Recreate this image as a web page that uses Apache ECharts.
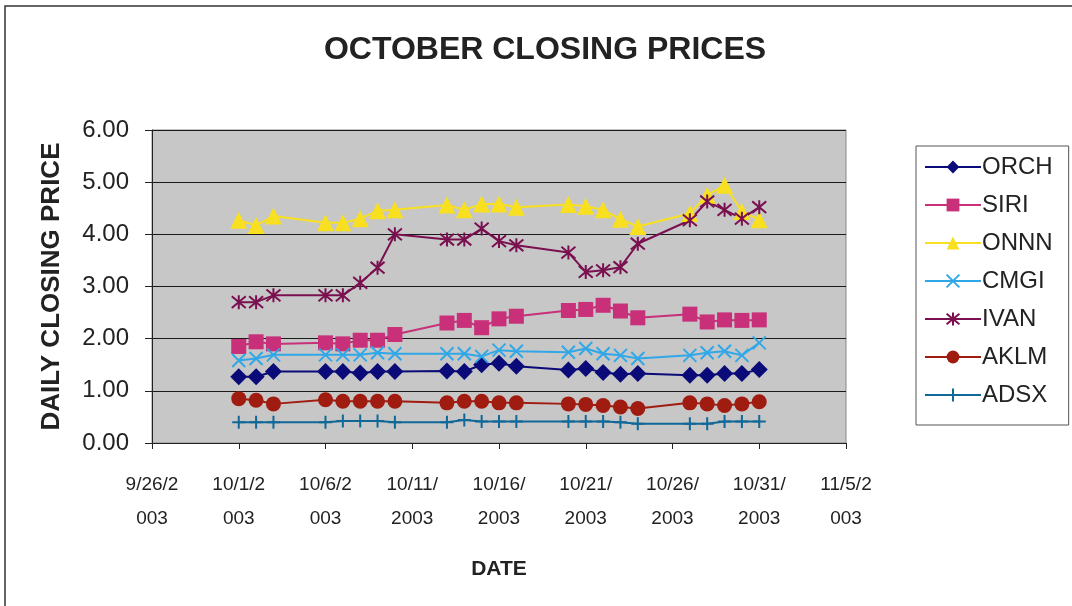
<!DOCTYPE html>
<html>
<head>
<meta charset="utf-8">
<script src="https://cdn.jsdelivr.net/npm/echarts@6/dist/echarts.min.js"></script>
<style>
  html, body { margin: 0; padding: 0; background: #fff; }
  #chart { width: 1072px; height: 606px; }
</style>
</head>
<body>
<div id="chart"></div>
<script>
// trading days of October 2003
var dates = ['2003-10-01','2003-10-02','2003-10-03',
  '2003-10-06','2003-10-07','2003-10-08','2003-10-09','2003-10-10',
  '2003-10-13','2003-10-14','2003-10-15','2003-10-16','2003-10-17',
  '2003-10-20','2003-10-21','2003-10-22','2003-10-23','2003-10-24',
  '2003-10-27','2003-10-28','2003-10-29','2003-10-30','2003-10-31']

var orch = [1.27,1.27,1.37,1.37,1.37,1.34,1.37,1.37,1.38,1.37,1.50,1.53,1.47,1.40,1.43,1.35,1.32,1.33,1.30,1.30,1.33,1.33,1.41]
var siri = [1.85,1.94,1.90,1.92,1.90,1.97,1.97,2.08,2.30,2.35,2.21,2.38,2.43,2.54,2.56,2.64,2.53,2.40,2.47,2.32,2.36,2.35,2.36]
var onnn = [4.27,4.17,4.35,4.22,4.22,4.30,4.45,4.47,4.56,4.47,4.58,4.58,4.52,4.57,4.54,4.47,4.29,4.15,4.40,4.75,4.94,4.44,4.28]
var cmgi = [1.58,1.62,1.69,1.69,1.69,1.69,1.73,1.71,1.71,1.71,1.66,1.78,1.76,1.74,1.81,1.71,1.68,1.62,1.68,1.73,1.76,1.68,1.92]
var ivan = [2.70,2.70,2.83,2.83,2.83,3.07,3.36,4.00,3.90,3.90,4.11,3.87,3.79,3.65,3.28,3.31,3.37,3.82,4.27,4.63,4.47,4.30,4.52]
var aklm = [0.85,0.82,0.75,0.83,0.80,0.80,0.80,0.80,0.77,0.80,0.80,0.77,0.77,0.75,0.74,0.72,0.69,0.66,0.77,0.75,0.72,0.75,0.79]
var adsx = [0.40,0.40,0.40,0.40,0.42,0.42,0.42,0.40,0.40,0.44,0.41,0.41,0.41,0.41,0.41,0.41,0.40,0.37,0.37,0.37,0.41,0.41,0.41]

var xTickLabels = ['9/26/2\n003','10/1/2\n003','10/6/2\n003','10/11/\n2003','10/16/\n2003',
  '10/21/\n2003','10/26/\n2003','10/31/\n2003','11/5/2\n003']

// x axis runs in days counted from 9/26/2003
var day0 = Date.UTC(2003, 8, 26)
function dayOf(s) {
  var p = s.split('-')
  return (Date.UTC(+p[0], +p[1] - 1, +p[2]) - day0) / 86400000
}
function pairs(vals) {
  return vals.map(function (v, i) { return [dayOf(dates[i]), v] })
}

var xPath = 'path://M0,0L10,10M10,0L0,10'
var starPath = 'path://M0,0L10,10M10,0L0,10M5,-1L5,11'
var plusPath = 'path://M5,0L5,10M0,5L10,5'

function mk(name, vals, color, symbol, size, stroke) {
  return {
    name: name,
    type: 'line',
    data: pairs(vals),
    symbol: symbol,
    symbolSize: size,
    showAllSymbol: true,
    lineStyle: { color: color, width: 2 },
    itemStyle: stroke
      ? { color: color, borderColor: color, borderWidth: 2 }
      : { color: color },
    emphasis: { disabled: true },
    z: 3
  }
}

var chart = echarts.init(document.getElementById('chart'))
chart.setOption({
  animation: false,
  backgroundColor: '#fff',
  textStyle: { fontFamily: 'Liberation Sans, Arial, sans-serif' },
  graphic: [{
    type: 'polyline',
    shape: { points: [[5, 610], [5, 6], [1072, 6]] },
    style: { stroke: '#333', lineWidth: 1.5, fill: null }
  }],
  title: {
    text: 'OCTOBER CLOSING PRICES',
    left: 540,
    textAlign: 'center',
    top: 29,
    textStyle: { fontSize: 32, fontWeight: 'bold', color: '#222' }
  },
  legend: {
    orient: 'vertical',
    left: 916,
    top: 146,
    width: 153,
    padding: [9, 16, 18, 8],
    itemWidth: 56,
    itemHeight: 16,
    itemGap: 14,
    borderColor: '#555',
    borderWidth: 1,
    backgroundColor: '#fff',
    textStyle: { fontSize: 24, color: '#222', padding: [0, 0, 0, -4] },
    data: ['ORCH','SIRI','ONNN','CMGI','IVAN','AKLM','ADSX']
  },
  grid: {
    left: 152, right: 226, top: 130, bottom: 163,
    show: true,
    backgroundColor: '#c7c7c7',
    borderColor: '#888',
    borderWidth: 1
  },
  xAxis: {
    type: 'value',
    min: 0, max: 40, interval: 5,
    name: 'DATE',
    nameLocation: 'middle',
    nameGap: 116,
    nameTextStyle: { fontSize: 21, fontWeight: 'bold', color: '#222' },
    axisLine: { lineStyle: { color: '#222', width: 1 } },
    axisTick: { show: true, length: 6, lineStyle: { color: '#222' } },
    splitLine: { show: false },
    axisLabel: {
      fontSize: 19,
      color: '#222',
      lineHeight: 34,
      margin: 25,
      formatter: function (v) { return xTickLabels[Math.round(v / 5)] }
    }
  },
  yAxis: {
    type: 'value',
    min: 0, max: 6, interval: 1,
    name: 'DAILY CLOSING PRICE',
    nameLocation: 'middle',
    nameRotate: 90,
    nameGap: 87,
    nameTextStyle: { fontSize: 26, fontWeight: 'bold', color: '#222' },
    axisLine: { show: true, lineStyle: { color: '#222', width: 1 } },
    axisTick: { show: true, length: 7, lineStyle: { color: '#222' } },
    splitLine: { show: true, lineStyle: { color: '#1a1a1a', width: 1 } },
    axisLabel: {
      fontSize: 24, color: '#222', margin: 23,
      formatter: function (v) { return v.toFixed(2) }
    }
  },
  series: [
    mk('ORCH', orch, '#0a0a78', 'diamond', 17, false),
    mk('SIRI', siri, '#c8307a', 'rect', 15, false),
    mk('ONNN', onnn, '#f8e020', 'triangle', 17, false),
    mk('CMGI', cmgi, '#30a8e8', xPath, 13, true),
    mk('IVAN', ivan, '#7a1050', starPath, 14, true),
    mk('AKLM', aklm, '#a01c10', 'circle', 15, false),
    mk('ADSX', adsx, '#106898', plusPath, 13, true)
  ]
})
</script>
</body>
</html>
